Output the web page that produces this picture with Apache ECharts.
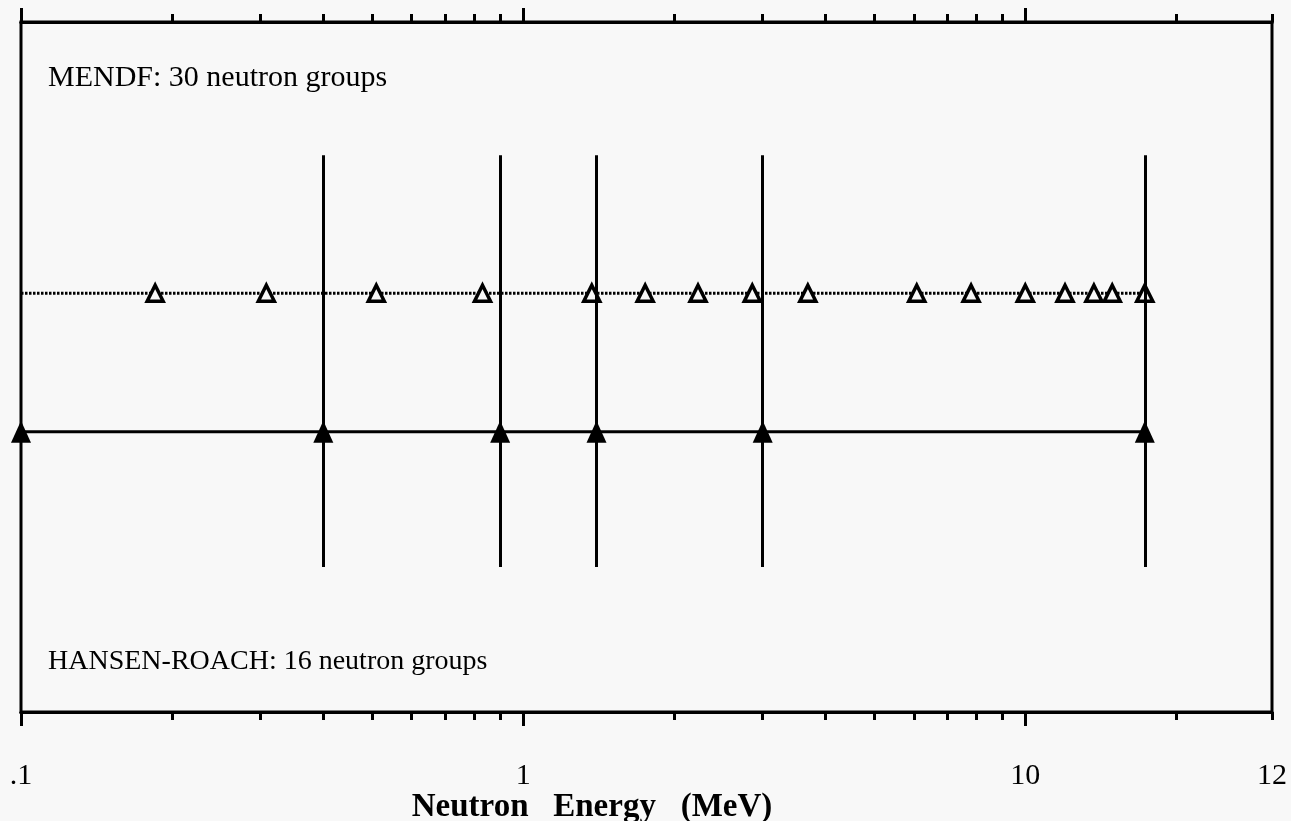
<!DOCTYPE html>
<html><head><meta charset="utf-8">
<script src="https://cdn.jsdelivr.net/npm/echarts@6/dist/echarts.min.js"></script>
<style>html,body{margin:0;padding:0;background:#f8f8f8}#c{width:1291px;height:821px}</style>
</head><body><div id="c"></div>
<script>
// Group boundaries (MeV)
const hansenBounds = [0.1, 0.4, 0.9, 1.4, 3, 17.3];
const mendfBounds = [0.1, 0.185, 0.308, 0.51, 0.83, 1.37, 1.75, 2.23, 2.86, 3.69, 6.08, 7.8, 10, 12, 13.7, 14.9, 17.3];
const axisMin = 0.1;
const axisMax = 31;
const majorTicks = [0.1, 1, 10];
const minorTicks = [0.2, 0.3, 0.4, 0.5, 0.6, 0.7, 0.8, 0.9, 2, 3, 4, 5, 6, 7, 8, 9, 20, 31];
const labelValues = [0.1, 1, 10, 31];
const labelTexts = ['.1', '1', '10', '12'];

const SERIF = '"Liberation Serif", "Times New Roman", serif';
const BG = '#f8f8f8';

function fmt(v) {
  const i = labelValues.findIndex(x => Math.abs(x - v) < 1e-6 * Math.max(1, x));
  return i >= 0 ? labelTexts[i] : '';
}
function mkAxis(pos, vals, len, withLabels) {
  return {
    type: 'log', logBase: 10, min: axisMin, max: axisMax, position: pos, gridIndex: 0,
    axisLine: { show: true, lineStyle: { color: '#000', width: 3 } },
    axisTick: { show: true, inside: false, customValues: vals, length: len, lineStyle: { color: '#000', width: 3 } },
    axisLabel: withLabels ? {
      show: true, customValues: labelValues, formatter: fmt, margin: 49,
      color: '#000', fontFamily: SERIF, fontSize: 30
    } : { show: false },
    splitLine: { show: false }, minorTick: { show: false }, minorSplitLine: { show: false }
  };
}

const chart = echarts.init(document.getElementById('c'), null, { renderer: 'canvas' });
chart.setOption({
  backgroundColor: BG,
  animation: false,
  grid: { left: 21, right: 19, top: 22, bottom: 109, show: true, borderColor: '#000', borderWidth: 3, backgroundColor: 'transparent' },
  xAxis: [
    mkAxis('bottom', majorTicks, 14, true),
    mkAxis('bottom', minorTicks, 8, false),
    mkAxis('top', majorTicks, 14, false),
    mkAxis('top', minorTicks, 8, false)
  ],
  yAxis: { type: 'value', min: 0, max: 100, show: false },
  series: [
    {
      type: 'line', name: 'MENDF', xAxisIndex: 0,
      data: mendfBounds.map((e, i) => ({ value: [e, 60.7], symbol: i === 0 ? 'none' : 'triangle' })),
      symbolSize: [16, 16],
      itemStyle: { color: BG, borderColor: '#000', borderWidth: 3.5 },
      lineStyle: { color: '#000', width: 3, type: [2.5, 1.5] },
      z: 4
    },
    {
      type: 'line', name: 'HANSEN-ROACH', xAxisIndex: 0,
      data: hansenBounds.map(e => [e, 40.6]),
      symbol: 'triangle', symbolSize: [20, 22],
      itemStyle: { color: '#000' },
      lineStyle: { color: '#000', width: 3 },
      z: 3,
      markLine: {
        symbol: 'none', silent: true, label: { show: false },
        lineStyle: { color: '#000', width: 3, type: 'solid' },
        data: hansenBounds.slice(1).map(e => [{ coord: [e, 21] }, { coord: [e, 80.7] }])
      }
    }
  ],
  graphic: [
    { type: 'text', x: 48, y: 78, style: { text: 'MENDF: 30 neutron groups', fontFamily: SERIF, fontSize: 30, fill: '#000', align: 'left', verticalAlign: 'middle' } },
    { type: 'text', x: 48, y: 662, style: { text: 'HANSEN-ROACH: 16 neutron groups', fontFamily: SERIF, fontSize: 28, fill: '#000', align: 'left', verticalAlign: 'middle' } },
    { type: 'text', x: 592, y: 807, style: { text: 'Neutron   Energy   (MeV)', fontFamily: SERIF, fontSize: 33, fontWeight: 'bold', fill: '#000', align: 'center', verticalAlign: 'middle' } }
  ]
});
</script>
</body></html>
